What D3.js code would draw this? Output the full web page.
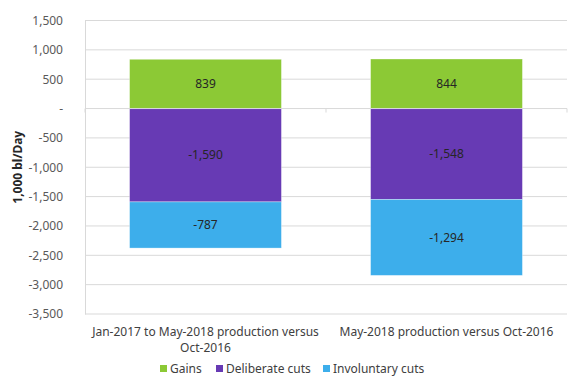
<!DOCTYPE html>
<html lang="en">
<head>
<meta charset="UTF-8">
<title>Production changes</title>
<script src="https://d3js.org/d3.v7.min.js"></script>
<style>
    body { margin: 0; background: #fff; }
    text { font-family: "Noto Sans", "Open Sans", sans-serif; }
</style>
</head>
<body>
<div id="chart"></div>
<script>
    // chart data
    var categories = ["Jan-2017 to May-2018 production versus Oct-2016", "May-2018 production versus Oct-2016"];
    var categoryLines = [["Jan-2017 to May-2018 production versus", "Oct-2016"], ["May-2018 production versus Oct-2016"]];
    var seriesNames = ["Gains", "Deliberate cuts", "Involuntary cuts"];
    var gains = [839, 844];
    var deliberate = [-1590, -1548];
    var involuntary = [-787, -1294];
    var yTicks = [1500, 1000, 500, 0, -500, -1000, -1500, -2000, -2500, -3000, -3500];
    var colors = ["#8cc935", "#673ab4", "#3daeeb"];

    var W = 579, H = 391;
    var margin = {top: 20.5, right: 12, bottom: 77, left: 85};
    var width = W - margin.left - margin.right,
        height = H - margin.top - margin.bottom;

    var svg = d3.select("#chart").append("svg")
        .attr("width", W).attr("height", H);
    var g = svg.append("g")
        .attr("transform", "translate(" + margin.left + "," + margin.top + ")");

    var x = d3.scaleBand().domain(categories).range([0, width]).paddingInner(0.37).paddingOuter(0.185);
    var y = d3.scaleLinear().domain([-3500, 1500]).range([height, 0]);

    // plain hyphen for negatives, like the original
    var num = function(v) { return d3.format(",")(v).replace("\u2212", "-"); };
    var fmt = function(v) { return v === 0 ? "-" : num(v); };

    // gridlines
    g.selectAll(".grid").data(yTicks.filter(d => d !== 0)).enter().append("line")
        .attr("x1", 0).attr("x2", width)
        .attr("y1", d => y(d)).attr("y2", d => y(d))
        .attr("stroke", "#d9d9d9").attr("stroke-width", 1);

    // y axis
    var yAxis = g.append("g")
        .call(d3.axisLeft(y).tickValues(yTicks).tickFormat(fmt).tickSize(0).tickPadding(22));
    yAxis.select(".domain").attr("stroke", "#d9d9d9");
    yAxis.selectAll("text").attr("fill", "#595959").style("font-size", "12px");

    // stacked segments
    var stacks = categories.map(function(c, i) {
        var segs = [];
        segs.push({cat: c, s: 0, v: gains[i], y0: 0, y1: gains[i]});
        segs.push({cat: c, s: 1, v: deliberate[i], y0: 0, y1: deliberate[i]});
        segs.push({cat: c, s: 2, v: involuntary[i], y0: deliberate[i], y1: deliberate[i] + involuntary[i]});
        return segs;
    });
    var segs = stacks.flat();

    g.selectAll(".seg").data(segs).enter().append("rect")
        .attr("class", "seg")
        .attr("x", d => x(d.cat))
        .attr("width", x.bandwidth())
        .attr("y", d => y(Math.max(d.y0, d.y1)))
        .attr("height", d => Math.abs(y(d.y0) - y(d.y1)))
        .attr("fill", d => colors[d.s])
        .attr("stroke", "#ffffff").attr("stroke-opacity", 0.4).attr("stroke-width", 0.8);

    g.selectAll(".lbl").data(segs).enter().append("text")
        .attr("x", d => x(d.cat) + x.bandwidth() / 2)
        .attr("y", d => (y(d.y0) + y(d.y1)) / 2)
        .attr("dy", "0.35em")
        .attr("text-anchor", "middle")
        .style("font-size", "12px")
        .attr("fill", "#262626")
        .text(d => num(d.v));

    // x axis at zero
    var xAxis = g.append("g")
        .attr("transform", "translate(0," + y(0) + ")");
    xAxis.append("line").attr("x1", 0).attr("x2", width).attr("stroke", "#d9d9d9");
    xAxis.selectAll(".tk").data([0, width / 2, width]).enter().append("line")
        .attr("x1", d => d).attr("x2", d => d).attr("y1", 0).attr("y2", 4)
        .attr("stroke", "#d9d9d9");

    // category labels
    var catLab = g.selectAll(".cat").data(categories).enter().append("text")
        .attr("text-anchor", "middle")
        .attr("x", d => x(d) + x.bandwidth() / 2)
        .attr("y", height + 22)
        .attr("fill", "#404040")
        .style("font-size", "12px");
    catLab.selectAll("tspan").data((d, i) => categoryLines[i]).enter().append("tspan")
        .attr("x", function() { return d3.select(this.parentNode).attr("x"); })
        .attr("dy", (d, i) => i === 0 ? 0 : 16)
        .text(d => d);

    // y title
    svg.append("text")
        .attr("transform", "translate(22," + (margin.top + height / 2) + ") rotate(-90)")
        .attr("text-anchor", "middle")
        .style("font-size", "12px").style("font-weight", "bold")
        .attr("fill", "#262626")
        .text("1,000 bl/Day");

    // legend
    var legendX = [160, 216, 323];
    var legend = svg.selectAll(".leg").data(seriesNames).enter().append("g")
        .attr("transform", (d, i) => "translate(" + legendX[i] + ",369)");
    legend.append("rect").attr("x", 0).attr("y", -4).attr("width", 7).attr("height", 7)
        .attr("fill", (d, i) => colors[i]);
    legend.append("text").attr("x", 10).attr("dy", "0.35em")
        .attr("fill", "#404040").style("font-size", "12px")
        .text(d => d);
</script>
</body>
</html>
